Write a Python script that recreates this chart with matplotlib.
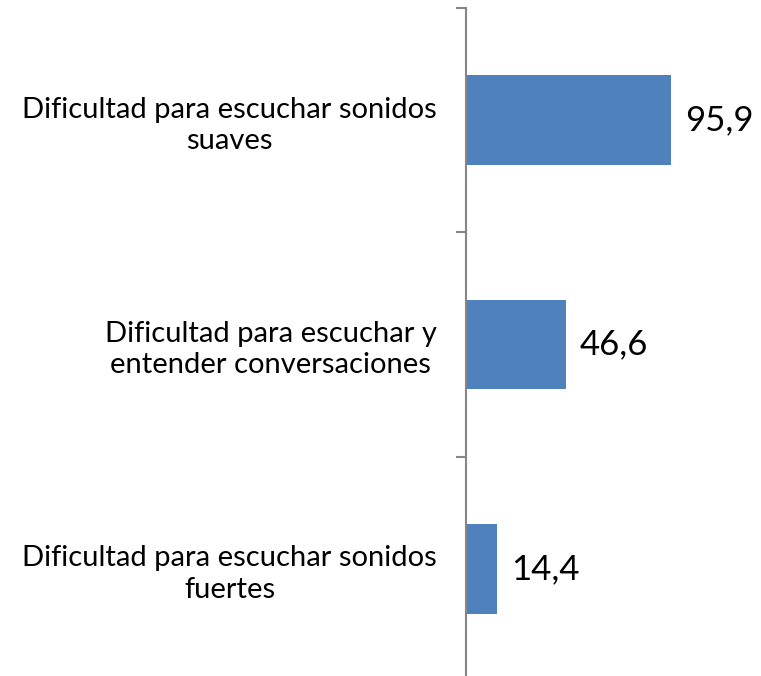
import matplotlib
matplotlib.use("Agg")
import matplotlib.pyplot as plt

categories = [
    "Dificultad para escuchar sonidos\nsuaves",
    "Dificultad para escuchar y\nentender conversaciones",
    "Dificultad para escuchar sonidos\nfuertes",
]
values = [95.9, 46.6, 14.4]
value_labels = ["95,9", "46,6", "14,4"]

plt.rcParams["font.family"] = ["Lato", "DejaVu Sans"]

fig = plt.figure(figsize=(7.61, 6.76), dpi=100)
ax = fig.add_axes([466 / 761, -5 / 676, 256.6 / 761, 673 / 676])

pos = range(len(categories))
ax.barh(pos, values, height=0.4, color="#4F81BD", edgecolor="none")
ax.set_ylim(2.5, -0.5)
ax.set_xlim(0, 120)

for p, v, lab in zip(pos, values, value_labels):
    ax.annotate(lab, (v, p), xytext=(10, 0), textcoords="offset points",
                va="center", ha="left", fontsize=25, color="#000000")

ax.set_yticks([-0.5, 0.5, 1.5])
ax.set_yticks(list(pos), minor=True)
ax.set_yticklabels([])
ax.set_yticklabels(categories, minor=True, fontsize=21, ha="right",
                   multialignment="center", linespacing=1.25)
ax.tick_params(axis="y", which="major", length=7, width=1.5, color="#868686")
ax.tick_params(axis="y", which="minor", length=0, pad=21)
ax.set_xticks([])
for s in ("top", "right", "bottom"):
    ax.spines[s].set_visible(False)
ax.spines["left"].set_color("#868686")
ax.spines["left"].set_linewidth(1.5)

fig.savefig("out.png", dpi=100)
